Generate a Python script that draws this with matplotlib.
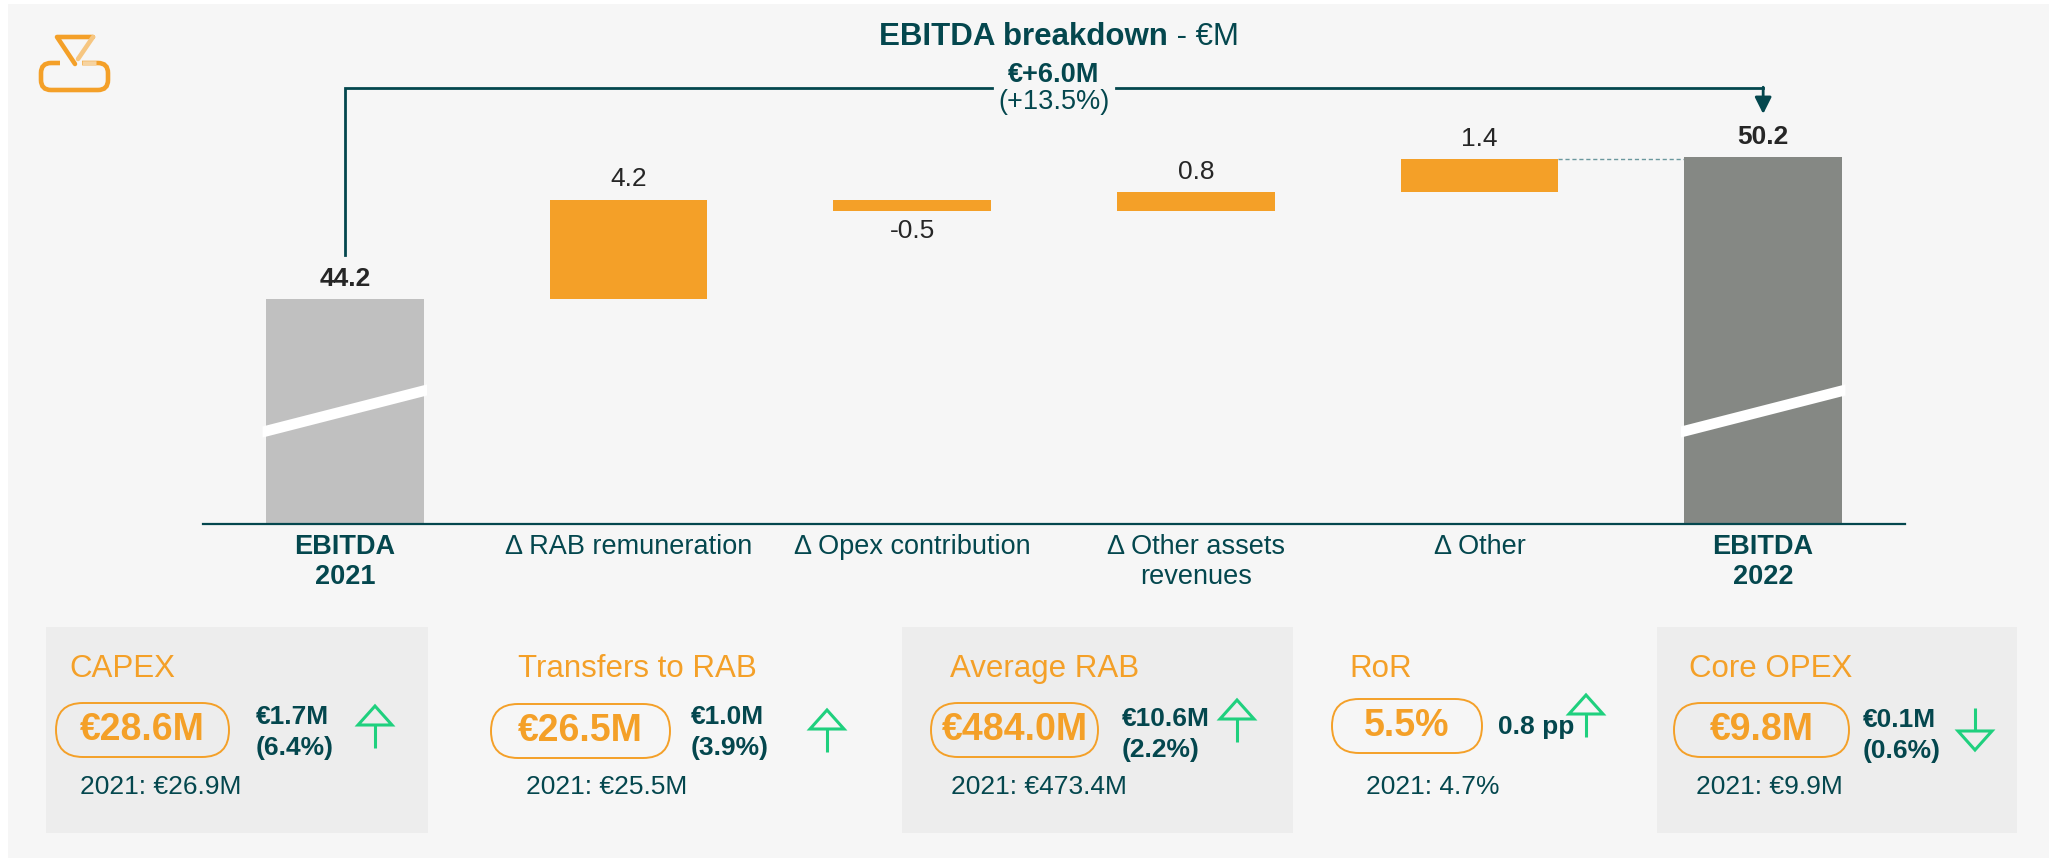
import numpy as np
import matplotlib.pyplot as plt
from matplotlib.patches import Rectangle, FancyBboxPatch, Polygon
from matplotlib.transforms import blended_transform_factory

plt.rcParams['font.family'] = ['Liberation Sans', 'DejaVu Sans']

# --- waterfall data (EUR M)
categories = ['EBITDA\n2021', 'Δ RAB remuneration', 'Δ Opex contribution',
              'Δ Other assets\nrevenues', 'Δ Other', 'EBITDA\n2022']
ebitda_2021 = 44.2
ebitda_2022 = 50.2
deltas = [4.2, -0.5, 0.8, 1.4]
change_abs = '€+6.0M'
change_pct = '(+13.5%)'

# --- KPI strip
kpi_names = ['CAPEX', 'Transfers to RAB', 'Average RAB', 'RoR', 'Core OPEX']
kpi_values = ['€28.6M', '€26.5M', '€484.0M', '5.5%', '€9.8M']
kpi_deltas = ['€1.7M', '€1.0M', '€10.6M', '0.8 pp', '€0.1M']
kpi_pcts = ['(6.4%)', '(3.9%)', '(2.2%)', '', '(0.6%)']
kpi_prev = ['2021: €26.9M', '2021: €25.5M', '2021: €473.4M', '2021: 4.7%', '2021: €9.9M']
kpi_up = [True, True, True, True, False]

# colours
BG = '#f6f6f6'
BOX = '#ededed'
ORANGE = '#f4a028'
TEAL = '#04474e'
GREY_L = '#c0c0c0'
GREY_D = '#858884'
DARK = '#262626'
GREEN = '#1fd07e'

W, H = 2049, 858
fig = plt.figure(figsize=(W / 100, H / 100), dpi=100, facecolor='white')

# pixel-space layer for background, logo, title and KPI boxes
bg = fig.add_axes([0, 0, 1, 1], zorder=0)
bg.set_xlim(0, W)
bg.set_ylim(H, 0)
bg.axis('off')
bg.add_patch(Rectangle((8, 4), W, H, color=BG, lw=0))

# logo
bg.add_patch(FancyBboxPatch((41, 63), 67, 27, boxstyle='round,pad=0,rounding_size=10',
                            fill=False, ec=ORANGE, lw=3.3))
bg.plot([60, 82], [63, 63], color=BG, lw=6, solid_capstyle='butt')
bg.plot([82, 96], [63, 63], color='#f6d3a0', lw=3.3, solid_capstyle='butt')
bg.plot([75, 57, 93], [64, 37, 37], color=ORANGE, lw=3.3, solid_joinstyle='round',
        solid_capstyle='round')
bg.plot([93, 78], [37, 59], color='#f6c681', lw=3.3, solid_capstyle='round')

# title: bold part + regular part centred together
r = fig.canvas.get_renderer()
t1 = bg.text(0, 37, 'EBITDA breakdown', fontsize=22.5, fontweight='bold', color=TEAL,
             ha='left', va='center')
t2 = bg.text(0, 37, ' - €M', fontsize=22.5, color=TEAL, ha='left', va='center')
w1 = t1.get_window_extent(r).width
w2 = t2.get_window_extent(r).width
x0 = 1059 - (w1 + w2) / 2
t1.set_x(x0)
t2.set_x(x0 + w1)

# --- waterfall chart
ax = fig.add_axes([203 / W, 1 - 524 / H, 1702 / W, 504 / H], zorder=2)
ax.patch.set_alpha(0)
bw = 0.556
x = np.arange(len(categories))
cum = np.concatenate([[ebitda_2021], ebitda_2021 + np.cumsum(deltas)])

ax.bar(x[0], ebitda_2021, width=bw, color=GREY_L, zorder=2)
ax.bar(x[1:-1], deltas, bottom=cum[:-1], width=bw, color=ORANGE, zorder=2)
ax.bar(x[-1], ebitda_2022, width=bw, color=GREY_D, zorder=2)

ax.set_xlim(-0.5, 5.5)
ax.set_ylim(34.69, 55.99)

# value labels
ax.annotate(f'{ebitda_2021:.1f}', (x[0], ebitda_2021), xytext=(0, 14.5), textcoords='offset points',
            ha='center', va='center', fontsize=19, fontweight='bold', color=DARK)
ax.annotate(f'{ebitda_2022:.1f}', (x[-1], ebitda_2022), xytext=(0, 14.5), textcoords='offset points',
            ha='center', va='center', fontsize=19, fontweight='bold', color=DARK)
for xi, d, b in zip(x[1:-1], deltas, cum[:-1]):
    if d >= 0:
        ax.annotate(f'{d:.1f}', (xi, b + d), xytext=(0, 14.5), textcoords='offset points',
                    ha='center', va='center', fontsize=19, color=DARK)
    else:
        ax.annotate(f'{d:.1f}', (xi, b + d), xytext=(0, -14), textcoords='offset points',
                    ha='center', va='center', fontsize=19, color=DARK)

# axis break marks on the total bars
trans = blended_transform_factory(ax.transData, ax.transAxes)
for xi in (x[0], x[-1]):
    l, rr = xi - bw / 2 - 0.012, xi + bw / 2 + 0.012
    ax.add_patch(Polygon([(l, 0.1715), (rr, 0.255), (rr, 0.277), (l, 0.1935)], closed=True,
                         transform=trans, color='white', lw=0, zorder=3))

# dashed connector into final bar
ax.plot([x[-2] + bw / 2, x[-1] - bw / 2], [cum[-1], cum[-1]], color='#6b989e', lw=1,
        ls=(0, (3, 2)), zorder=1)

# bracket showing total change
bracket_y = ebitda_2022 + 2.91
mid = (x[0] + x[-1]) / 2
gap = 0.22
ax.plot([x[0], x[0], mid - gap], [ebitda_2021 + 1.86, bracket_y, bracket_y], color=TEAL, lw=2,
        solid_joinstyle='miter', clip_on=False)
ax.plot([mid + gap, x[-1]], [bracket_y, bracket_y], color=TEAL, lw=2, clip_on=False)
ax.annotate('', xy=(x[-1], ebitda_2022 + 1.82), xytext=(x[-1], bracket_y + 0.04),
            arrowprops=dict(arrowstyle='-|>,head_length=1.0,head_width=0.5', color=TEAL, lw=2,
                            shrinkA=0, shrinkB=0, mutation_scale=10))
ax.text(mid, ebitda_2022 + 3.46, change_abs, ha='center', va='center', fontsize=19.5,
        fontweight='bold', color=TEAL)
ax.text(mid, ebitda_2022 + 2.32, change_pct, ha='center', va='center', fontsize=19.5, color=TEAL)

ax.set_xticks(x, categories)
ax.tick_params(axis='x', length=0, pad=7, labelsize=19.5, labelcolor=TEAL)
ax.set_yticks([])
labels = ax.get_xticklabels()
labels[0].set_fontweight('bold')
labels[-1].set_fontweight('bold')
for s in ('top', 'left', 'right'):
    ax.spines[s].set_visible(False)
ax.spines['bottom'].set_color(TEAL)
ax.spines['bottom'].set_linewidth(1.6)

# --- KPI boxes (pixel layout)
box_x = [(46, 428), (480, 880), (902, 1293), (1310, 1640), (1657, 2017)]
box_shaded = [True, False, True, False, True]
title_x = [69, 518, 950, 1349, 1689]
pill_box = [(56, 229, 703), (491, 670, 704), (931, 1098, 703), (1332, 1482, 699), (1674, 1849, 703)]
delta_pos = [(256, 717), (691, 717), (1122, 719), (1498, 727), (1863, 720)]
arrow_xy = [(375, 727), (827, 731), (1237, 721), (1586, 716), (1975, 729)]
prev_x = [80, 526, 951, 1366, 1696]
pill_h = 54


def kpi_arrow(cx, cy, up):
    L, hh, hw = 42, 19, 17
    s = -1 if up else 1
    tip = cy + s * L / 2
    tail = cy - s * L / 2
    head_base = tip - s * hh
    bg.plot([cx, cx], [tail, head_base], color=GREEN, lw=2.2, solid_capstyle='butt')
    bg.add_patch(Polygon([(cx - hw, head_base), (cx + hw, head_base), (cx, tip)], closed=True,
                         fill=False, ec=GREEN, lw=2.2, joinstyle='miter'))


for i in range(len(kpi_names)):
    if box_shaded[i]:
        bx0, bx1 = box_x[i]
        bg.add_patch(Rectangle((bx0, 627), bx1 - bx0, 206, color=BOX, lw=0))
    bg.text(title_x[i], 669, kpi_names[i], fontsize=22.5, color=ORANGE, ha='left', va='center')
    px0, px1, py0 = pill_box[i]
    bg.add_patch(FancyBboxPatch((px0, py0), px1 - px0, pill_h,
                                boxstyle=f'round,pad=0,rounding_size={pill_h / 2}',
                                fill=False, ec=ORANGE, lw=1.4))
    bg.text((px0 + px1) / 2, py0 + pill_h / 2, kpi_values[i], fontsize=27, fontweight='bold',
            color=ORANGE, ha='center', va='center')
    dx, dy = delta_pos[i]
    bg.text(dx, dy, kpi_deltas[i], fontsize=19, fontweight='bold', color=TEAL, ha='left', va='center')
    if kpi_pcts[i]:
        bg.text(dx, dy + 31, kpi_pcts[i], fontsize=19, fontweight='bold', color=TEAL,
                ha='left', va='center')
    kpi_arrow(*arrow_xy[i], kpi_up[i])
    bg.text(prev_x[i], 787, kpi_prev[i], fontsize=19, color=TEAL, ha='left', va='center')

fig.savefig('out.png', dpi=100, facecolor=fig.get_facecolor())
